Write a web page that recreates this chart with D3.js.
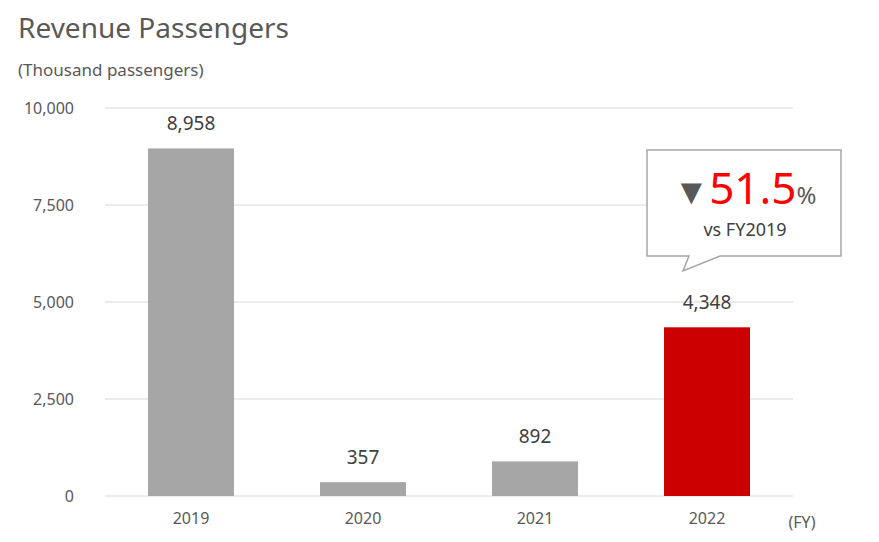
<!DOCTYPE html>
<html><head><meta charset="utf-8">
<script src="https://cdn.jsdelivr.net/npm/d3@7"></script>
<style>body{margin:0;background:#fff;font-family:"Noto Sans",sans-serif;}</style>
</head><body><div id="chart"></div>
<script>
const years = ["2019", "2020", "2021", "2022"]
const passengers = [8958, 357, 892, 4348]
const yTicks = [0, 2500, 5000, 7500, 10000]
const barColors = ["#a6a6a6", "#a6a6a6", "#a6a6a6", "#cc0000"]

const width = 879, height = 542
const marginLeft = 105, marginRight = 86, marginTop = 108, marginBottom = 46

const svg = d3.select("#chart").append("svg")
    .attr("width", width).attr("height", height)

const x = d3.scaleBand(years, [marginLeft, width - marginRight]).paddingInner(0.5).paddingOuter(0.25)
const y = d3.scaleLinear([0, 10000], [height - marginBottom, marginTop])

svg.append("text").attr("x", 18).attr("y", 38).attr("font-size", 28)
    .attr("fill", "#595959").text("Revenue Passengers")
svg.append("text").attr("x", 18).attr("y", 76).attr("font-size", 17)
    .attr("fill", "#595959").text("(Thousand passengers)")

// gridlines
svg.append("g").selectAll("line").data(yTicks).join("line")
    .attr("x1", marginLeft).attr("x2", width - marginRight)
    .attr("y1", d => y(d)).attr("y2", d => y(d))
    .attr("stroke", "#d9d9d9")

svg.append("g").attr("transform", `translate(${marginLeft - 28},0)`)
    .call(d3.axisLeft(y).tickValues(yTicks).tickSize(0).tickFormat(d3.format(",")))
    .call(g => g.select(".domain").remove())
    .call(g => g.selectAll("text").attr("font-size", 16).attr("fill", "#595959")
        .attr("font-family", "Noto Sans"))

svg.append("g").attr("transform", `translate(0,${height - marginBottom + 14})`)
    .call(d3.axisBottom(x).tickSize(0))
    .call(g => g.select(".domain").remove())
    .call(g => g.selectAll("text").attr("font-size", 16).attr("fill", "#595959")
        .attr("font-family", "Noto Sans"))

svg.append("text").attr("x", 802).attr("y", 528).attr("text-anchor", "middle")
    .attr("font-size", 16).attr("fill", "#595959").text("(FY)")

svg.append("g").selectAll("rect").data(passengers).join("rect")
    .attr("x", (d, i) => x(years[i])).attr("width", x.bandwidth())
    .attr("y", d => y(d)).attr("height", d => y(0) - y(d))
    .attr("fill", (d, i) => barColors[i])

svg.append("g").selectAll("text").data(passengers).join("text")
    .attr("x", (d, i) => x(years[i]) + x.bandwidth() / 2)
    .attr("y", d => y(d) - 18).attr("text-anchor", "middle")
    .attr("font-size", 19).attr("fill", "#404040").text(d3.format(","))

// callout
const drop = (1 - passengers[3] / passengers[0]) * 100
svg.append("path")
    .attr("d", `M647,150 H841 V256 H720 L683,271 L689,256 H647 Z`)
    .attr("fill", "#fff").attr("stroke", "#a6a6a6").attr("stroke-width", 1.5)
const t = svg.append("text").attr("x", 745).attr("y", 204).attr("text-anchor", "middle")
t.append("tspan").attr("font-size", 36).attr("fill", "#595959").text("▼")
t.append("tspan").attr("font-size", 44).attr("fill", "#ff0000").text(drop.toFixed(1))
t.append("tspan").attr("font-size", 24).attr("fill", "#595959").text("%")
svg.append("text").attr("x", 745).attr("y", 236).attr("text-anchor", "middle")
    .attr("font-size", 18).attr("fill", "#404040").text("vs FY2019")
</script></body></html>
